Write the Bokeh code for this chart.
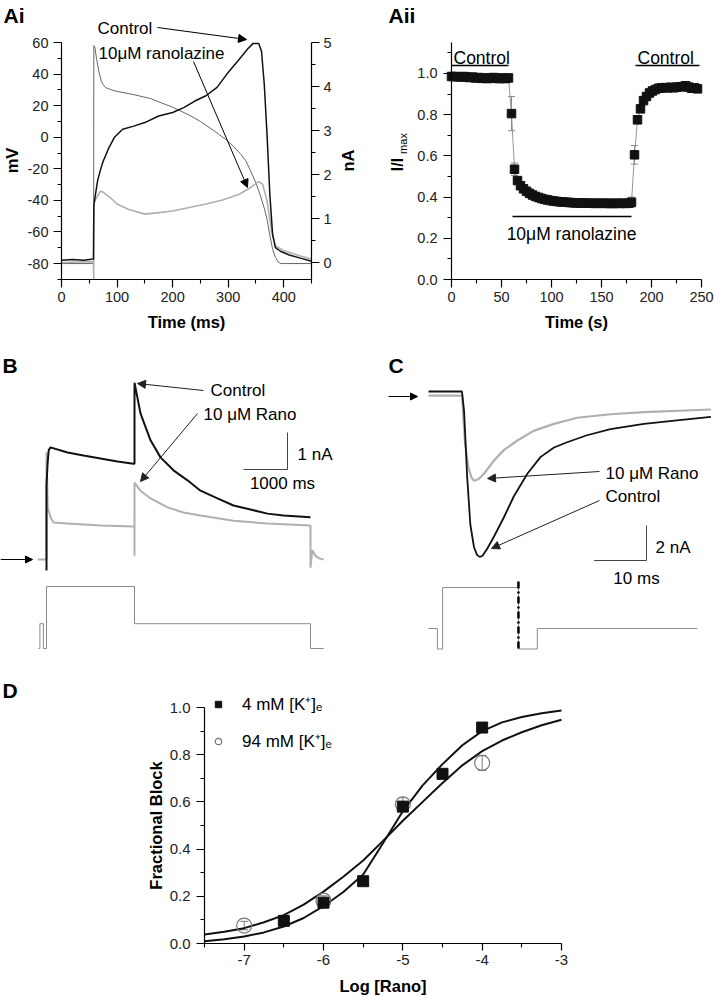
import math
from bokeh.plotting import figure
from bokeh.models import (Range1d, LinearAxis, FixedTicker, Label, Arrow, NormalHead,
                          TeeHead, Whisker, ColumnDataSource, Legend, LegendItem)
from bokeh.layouts import row, column
from bokeh.embed import file_html
from bokeh.resources import INLINE

FONT = "Liberation Sans"
INK = "#111111"
LIGHT = "#b0b0b0"

# ======================= DATA =======================
# ---- Ai : AP-clamp command (mV) and currents (nA) ----
ai_v_t = [0, 57.8, 58.2, 60, 63, 67, 72, 79, 90, 100, 130, 160, 200, 230, 250, 275, 298, 310,
          322, 332, 340, 350, 358, 365, 370, 375, 380, 385, 390, 395, 450]
ai_v_mv = [-80, -80, 58, 57, 50, 42, 35, 31.5, 30, 29, 27, 24.5, 19, 14, 10, 4, -2, -6,
           -10.5, -15, -21, -29, -37, -45, -52, -62, -71, -76, -79, -80, -80]
ai_ctrl_t = [0, 20, 40, 57.5, 58.2, 60, 65, 70, 75, 80, 85, 95, 110, 130, 150, 175, 200, 220,
             240, 260, 280, 300, 320, 335, 345, 355, 360, 365, 370, 375, 380, 385, 395, 410, 430, 450]
ai_ctrl_na = [0.05, 0.07, 0.05, 0.08, 1.3, 1.45, 1.86, 2.1, 2.3, 2.45, 2.6, 2.84, 3.03, 3.1, 3.18,
              3.33, 3.41, 3.52, 3.67, 3.79, 3.98, 4.32, 4.62, 4.85, 4.98, 4.98, 4.8, 4.05, 2.9,
              1.55, 0.64, 0.34, 0.25, 0.17, 0.1, 0.03]
ai_rano_t = [0, 57.5, 58, 58.3, 62, 70, 75, 80, 90, 100, 120, 150, 180, 200, 230, 260, 290, 320,
             340, 355, 362, 370, 378, 385, 400, 430, 450]
ai_rano_na = [0.0, 0.02, -0.38, 1.35, 1.45, 1.62, 1.6, 1.55, 1.45, 1.33, 1.21, 1.1, 1.14, 1.17,
              1.25, 1.33, 1.42, 1.55, 1.7, 1.84, 1.78, 1.4, 0.72, 0.38, 0.27, 0.15, 0.08]
ai_x_ticks = [0, 100, 200, 300, 400]
ai_x_labels = ["0", "100", "200", "300", "400"]
ai_x_minor = [50, 150, 250, 350, 450]
ai_mv_ticks = [-80, -60, -40, -20, 0, 20, 40, 60]
ai_mv_labels = ["-80", "-60", "-40", "-20", "0", "20", "40", "60"]
ai_mv_minor = [-90, -70, -50, -30, -10, 10, 30, 50]
ai_na_ticks = [0, 1, 2, 3, 4, 5]
ai_na_labels = ["0", "1", "2", "3", "4", "5"]
ai_na_minor = [0.5, 1.5, 2.5, 3.5, 4.5]

# ---- Aii : time course of I/Imax ----
aii_t = [0, 3, 6, 9, 12, 15, 18, 21, 24, 27, 30, 33, 36, 39, 42, 45, 48, 51, 54, 57,
         60, 63, 66, 69, 72, 75, 78, 81, 84, 87, 90, 93, 96, 99, 102, 105, 108, 111, 114, 117,
         120, 123, 126, 129, 132, 135, 138, 141, 144, 147, 150, 153, 156, 159, 162, 165, 168,
         171, 174, 177, 180,
         183, 186, 189, 192, 195, 198, 201, 204, 207, 210, 213, 216, 219, 222, 225, 228, 231,
         234, 237, 240, 243, 246]
aii_val = [0.985, 0.985, 0.984, 0.983, 0.985, 0.982, 0.980, 0.982, 0.978, 0.980, 0.976, 0.978,
           0.975, 0.978, 0.980, 0.976, 0.975, 0.978, 0.975, 0.978,
           0.805, 0.535, 0.480, 0.455, 0.440, 0.428, 0.418, 0.410, 0.403, 0.398, 0.393, 0.389,
           0.386, 0.383, 0.381, 0.379, 0.377, 0.376, 0.375, 0.374, 0.373, 0.372, 0.372, 0.371,
           0.371, 0.370, 0.370, 0.370, 0.369, 0.370, 0.370, 0.369, 0.370, 0.369, 0.369, 0.370,
           0.369, 0.370, 0.369, 0.370, 0.375,
           0.605, 0.775, 0.828, 0.868, 0.888, 0.905, 0.915, 0.922, 0.928, 0.930, 0.931, 0.930,
           0.933, 0.930, 0.933, 0.935, 0.936, 0.940, 0.934, 0.928, 0.930, 0.925]
aii_err_t = [60, 63, 66, 180, 183, 186]
aii_err = [0.083, 0.03, 0.015, 0.025, 0.045, 0.02]
aii_bar_start = [0, 61, 184]
aii_bar_end = [57, 180, 248]
aii_x_ticks = [0, 50, 100, 150, 200, 250]
aii_x_labels = ["0", "50", "100", "150", "200", "250"]
aii_x_minor = [25, 75, 125, 175, 225]
aii_y_ticks = [0.0, 0.2, 0.4, 0.6, 0.8, 1.0]
aii_y_labels = ["0.0", "0.2", "0.4", "0.6", "0.8", "1.0"]
aii_y_minor = [0.1, 0.3, 0.5, 0.7, 0.9, 1.1]

# ---- B : step protocol currents (ms, nA) and command (mV) ----
b_ctrl_t = [0, 0, 25, 50, 91, 477, 841, 1227, 1614, 1977, 2000, 2000, 2136, 2364, 2591, 2886,
            3205, 3500, 3886, 4250, 4636, 5023, 5386, 6000]
b_ctrl_na = [-0.3, 2.0, 2.6, 2.95, 3.03, 2.89, 2.81, 2.73, 2.65, 2.59, 2.59, 4.78, 3.95, 3.22,
             2.76, 2.41, 2.14, 1.86, 1.65, 1.46, 1.35, 1.24, 1.19, 1.14]
b_rano_t = [-200, 0, 0, 30, 91, 159, 477, 1227, 1977, 2000, 2000, 2000, 2136, 2364, 2750, 3114,
            3500, 4250, 5023, 6000, 6000, 6040, 6120, 6200, 6300]
b_rano_na = [0.0, 0.0, 2.9, 1.4, 1.14, 1.0, 0.97, 0.92, 0.89, 0.89, 0.1, 2.08, 1.86, 1.65, 1.41,
             1.27, 1.19, 1.05, 0.97, 0.92, -0.22, 0.25, 0.09, 0.03, 0.0]
b_prot_t = [-180, -150, -150, -70, -70, 0, 0, 2000, 2000, 6000, 6000, 6300]
b_prot_mv = [-80, -80, -40, -40, -80, -80, 20, 20, -40, -40, -80, -80]
b_scale_na = 1
b_scale_ms = 1000

# ---- C : tail currents (ms, nA) and command (mV) ----
c_ctrl_t = [0, 6.4, 6.8, 7.4, 8.0, 8.7, 9.3, 9.8, 10.3, 11.2, 12.5, 14.4, 16.3, 18.9, 21.4,
            24.0, 26.5, 30.3, 34.8, 41.2, 47.5, 54.0]
c_ctrl_na = [0, 0, -1.1, -4.9, -7.6, -8.9, -9.35, -9.45, -9.4, -9.0, -8.3, -7.2, -6.0, -4.7,
             -3.75, -3.2, -2.9, -2.5, -2.15, -1.85, -1.65, -1.45]
c_rano_t = [0, 6.4, 7.0, 7.6, 8.2, 8.7, 9.6, 10.6, 12.5, 14.4, 17.0, 20.1, 24.0, 28.4, 34.8,
            41.2, 54.0]
c_rano_na = [-0.23, -0.23, -3.0, -4.3, -4.9, -5.1, -5.0, -4.7, -3.95, -3.35, -2.8, -2.25, -1.85,
             -1.5, -1.3, -1.18, -1.03]
c_prot_t = [0, 1.7, 1.7, 2.7, 2.7, 17.2, 17.2, 20.8, 20.8, 51.4]
c_prot_mv = [-80, -80, -130, -130, 20, 20, -130, -130, -80, -80]
c_scale_na = 2
c_scale_ms = 10

# ---- D : concentration-response ----
d_x4 = [-6.5, -6.0, -5.5, -5.0, -4.5, -4.0]
d_y4 = [0.096, 0.173, 0.264, 0.580, 0.719, 0.915]
d_x94 = [-7.0, -6.0, -5.0, -4.0]
d_y94 = [0.076, 0.182, 0.590, 0.765]
d_e94 = [0.018, 0.02, 0.028, 0.032]
d_fit_x = [-7.5, -7.25, -7.0, -6.75, -6.5, -6.25, -6.0, -5.75, -5.5, -5.25, -5.0, -4.75, -4.5,
           -4.25, -4.0, -3.75, -3.5, -3.25, -3.0]
d_fit4 = [0.010, 0.018, 0.030, 0.047, 0.072, 0.108, 0.158, 0.218, 0.292, 0.425, 0.56, 0.67,
          0.76, 0.84, 0.90, 0.937, 0.96, 0.976, 0.987]
d_fit94 = [0.038, 0.05, 0.065, 0.09, 0.12, 0.165, 0.22, 0.283, 0.352, 0.435, 0.52, 0.60, 0.68,
           0.755, 0.815, 0.86, 0.895, 0.925, 0.948]
d_x_ticks = [-7, -6, -5, -4, -3]
d_x_labels = ["-7", "-6", "-5", "-4", "-3"]
d_x_minor = [-7.5, -6.5, -5.5, -4.5, -3.5]
d_y_ticks = [0.0, 0.2, 0.4, 0.6, 0.8, 1.0]
d_y_labels = ["0.0", "0.2", "0.4", "0.6", "0.8", "1.0"]
d_y_minor = [0.1, 0.3, 0.5, 0.7, 0.9]


# ======================= HELPERS =======================
def make_fig(w, h, xr, yr):
    p = figure(width=w, height=h, x_range=xr, y_range=yr, output_backend="svg",
               toolbar_location=None, x_axis_location=None, y_axis_location=None,
               min_border=0, min_border_left=0, min_border_right=0, min_border_top=0,
               min_border_bottom=0)
    p.outline_line_color = None
    p.background_fill_color = "white"
    p.border_fill_color = "white"
    p.xgrid.grid_line_color = None
    p.ygrid.grid_line_color = None
    p.xgrid.visible = False
    p.ygrid.visible = False
    return p


def add_axis(p, side, fixed, bounds, ticks, labels, minor, rng=None, title=None,
             label_standoff=5, title_standoff=5, size="14.5px", tick_out=8):
    kw = {}
    if rng is not None:
        kw["y_range_name"] = rng
    ax = LinearAxis(fixed_location=fixed, bounds=bounds, **kw)
    ax.ticker = FixedTicker(ticks=ticks, minor_ticks=minor)
    ax.major_label_overrides = {t: s for t, s in zip(ticks, labels)}
    ax.major_label_text_font = FONT
    ax.major_label_text_font_size = size
    ax.major_label_text_color = "#222222"
    ax.major_label_standoff = label_standoff
    ax.major_tick_in = 0
    ax.major_tick_out = tick_out
    ax.minor_tick_in = 0
    ax.minor_tick_out = 4
    ax.axis_line_color = "black"
    ax.major_tick_line_color = "black"
    ax.minor_tick_line_color = "black"
    ax.axis_line_width = 1.2
    ax.major_tick_line_width = 1.2
    ax.minor_tick_line_width = 1.1
    if title:
        ax.axis_label = title
        ax.axis_label_text_font = FONT
        ax.axis_label_text_font_size = "16.5px"
        ax.axis_label_text_font_style = "bold"
        ax.axis_label_text_color = "black"
        ax.axis_label_standoff = title_standoff
    p.add_layout(ax, side)
    return ax


def text(p, x, y, s, size="17px", align="left", baseline="middle", bold=False, angle=0.0,
         rng="default", color="black"):
    p.add_layout(Label(x=x, y=y, text=s, text_font=FONT, text_font_size=size,
                       text_align=align, text_baseline=baseline, angle=angle,
                       text_font_style="bold" if bold else "normal", text_color=color,
                       y_range_name=rng))


def arrow(p, x0, y0, x1, y1, rng="default", head=True, color="black", width=1.0,
          dash="solid", hsize=8):
    end = NormalHead(size=hsize, fill_color=color, line_color=color, line_width=1) if head else None
    p.add_layout(Arrow(x_start=x0, y_start=y0, x_end=x1, y_end=y1, end=end,
                       line_color=color, line_width=width, line_dash=dash, y_range_name=rng))


# page geometry (the page starts at 0,0): rows 0-340, 340-660, 660-997; columns 0-358, 358-715
# ======================= PANEL Ai =======================
A_TOP, A_BOT = 42, 279
A1_L, A1_R = 61, 311
A1_FX = (0, 450)
A1_FY = (-90.1, 60)
A1_NA = (-0.386, 5.0)


def a1x(px):
    return A1_FX[0] + (px - A1_L) * (A1_FX[1] - A1_FX[0]) / (A1_R - A1_L)


def a1y(py):
    return A1_FY[1] - (py - A_TOP) * (A1_FY[1] - A1_FY[0]) / (A_BOT - A_TOP)


def a1n(py):
    return A1_NA[1] - (py - A_TOP) * (A1_NA[1] - A1_NA[0]) / (A_BOT - A_TOP)


fa1 = make_fig(358, 340, Range1d(a1x(0), a1x(358)), Range1d(a1y(340), a1y(0)))
fa1.extra_y_ranges = {"na": Range1d(a1n(340), a1n(0))}
add_axis(fa1, "below", A1_FY[0], A1_FX, ai_x_ticks, ai_x_labels, ai_x_minor,
         title="Time (ms)", label_standoff=4, title_standoff=8)
add_axis(fa1, "left", A1_FX[0], A1_FY, ai_mv_ticks, ai_mv_labels, ai_mv_minor)
add_axis(fa1, "right", A1_FX[1], A1_NA, ai_na_ticks, ai_na_labels, ai_na_minor, rng="na",
         label_standoff=4)

fa1.line(ai_v_t, ai_v_mv, line_color="#666666", line_width=1)
fa1.line(ai_rano_t, ai_rano_na, y_range_name="na", line_color=LIGHT, line_width=1.6)
fa1.line(ai_ctrl_t, ai_ctrl_na, y_range_name="na", line_color=INK, line_width=1.5)

text(fa1, a1x(3), a1y(15), "Ai", size="21px", bold=True)
text(fa1, a1x(11), a1y(160), "mV", size="16.5px", bold=True, align="center", angle=math.pi / 2)
text(fa1, a1x(347), a1y(160), "nA", size="16.5px", bold=True, align="center", angle=math.pi / 2)
text(fa1, a1x(97), a1y(28), "Control")
text(fa1, a1x(98), a1y(53), "10\u03bcM ranolazine")
arrow(fa1, a1x(157), a1y(27), a1x(246), a1y(39))
arrow(fa1, a1x(193), a1y(61), a1x(247), a1y(187))

# ======================= PANEL Aii =======================
A2_L, A2_R = 451, 701
A2_FX = (0, 250)
A2_FY = (0, 1.15)


def a2x(px):
    return A2_FX[0] + (px - A2_L) * (A2_FX[1] - A2_FX[0]) / (A2_R - A2_L)


def a2y(py):
    return A2_FY[0] + (A_BOT - py) * (A2_FY[1] - A2_FY[0]) / (A_BOT - A_TOP)


fa2 = make_fig(357, 340, Range1d(a2x(358), a2x(715)), Range1d(a2y(340), a2y(0)))
add_axis(fa2, "below", A2_FY[0], A2_FX, aii_x_ticks, aii_x_labels, aii_x_minor,
         title="Time (s)", label_standoff=4, title_standoff=8)
add_axis(fa2, "left", A2_FX[0], A2_FY, aii_y_ticks, aii_y_labels, aii_y_minor,
         label_standoff=6)

idx = {t: i for i, t in enumerate(aii_t)}
err_src = ColumnDataSource(dict(
    t=aii_err_t,
    lo=[aii_val[idx[t]] - e for t, e in zip(aii_err_t, aii_err)],
    hi=[aii_val[idx[t]] + e for t, e in zip(aii_err_t, aii_err)]))
fa2.add_layout(Whisker(source=err_src, base="t", lower="lo", upper="hi", line_color="#8a8a8a",
                       line_width=1, upper_head=TeeHead(size=7, line_color="#8a8a8a"),
                       lower_head=TeeHead(size=7, line_color="#8a8a8a")))
fa2.line(aii_t, aii_val, line_color="#8a8a8a", line_width=0.9)
fa2.scatter(aii_t, aii_val, marker="square", size=8.5, fill_color=INK, line_color=INK)

bar_y = [a2y(65), a2y(216), a2y(65)]
fa2.segment(x0=aii_bar_start, x1=aii_bar_end, y0=bar_y, y1=bar_y, line_color="black",
            line_width=1.4)
text(fa2, a2x(453), a2y(57), "Control", size="17.5px")
text(fa2, a2x(637), a2y(57), "Control", size="17.5px")
text(fa2, a2x(571), a2y(233), "10\u03bcM ranolazine", size="17.5px", align="center")
text(fa2, a2x(388), a2y(15), "Aii", size="21px", bold=True)
text(fa2, a2x(397), a2y(164), "I/I", size="16px", bold=True, align="center", angle=math.pi / 2)
text(fa2, a2x(402.5), a2y(143), "max", size="11px", align="center", angle=math.pi / 2)

# ======================= PANEL B =======================
B_T0_PX, B_PX_PER_MS = 46, 0.044
B_I0_PX, B_PX_PER_NA = 559, 37.0
B_V0_PX, B_PX_PER_MV = 648, 0.62


def bx(px):
    return (px - B_T0_PX) / B_PX_PER_MS


def by(py):
    return (B_I0_PX - py) / B_PX_PER_NA


def bv(py):
    return -80 + (B_V0_PX - py) / B_PX_PER_MV


fb = make_fig(358, 320, Range1d(bx(0), bx(358)), Range1d(by(660), by(340)))
fb.extra_y_ranges = {"mv": Range1d(bv(660), bv(340))}
fb.line(b_prot_t, b_prot_mv, y_range_name="mv", line_color="#8c8c8c", line_width=1)
fb.line(b_rano_t, b_rano_na, line_color=LIGHT, line_width=2.0)
fb.line(b_ctrl_t, b_ctrl_na, line_color=INK, line_width=2.0)

text(fb, bx(2), by(365), "B", size="21px", bold=True)
arrow(fb, bx(0), 0, bx(32), 0, hsize=7)
text(fb, bx(210), by(390), "Control")
text(fb, bx(203), by(414), "10 \u03bcM Rano")
arrow(fb, bx(203), by(390), bx(137), by(383), color="#222222")
arrow(fb, bx(197), by(413), bx(140), by(481), color="#222222")
b_bar_x = bx(287)
b_bar_y = by(469)
arrow(fb, b_bar_x, b_bar_y, b_bar_x, b_bar_y + b_scale_na, head=False, color="#444444")
arrow(fb, b_bar_x - b_scale_ms, b_bar_y, b_bar_x, b_bar_y, head=False, color="#444444")
text(fb, bx(297), by(454), "1 nA")
text(fb, bx(282), by(483), "1000 ms", align="center")

# ======================= PANEL C =======================
C_T0_PX, C_PX_PER_MS = 428, 5.23
C_I0_PX, C_PX_PER_NA = 391, 17.5
C_V0_PX, C_PX_PER_MV = 628, 0.41


def cx(px):
    return (px - C_T0_PX) / C_PX_PER_MS


def cy(py):
    return (C_I0_PX - py) / C_PX_PER_NA


def cv(py):
    return -80 + (C_V0_PX - py) / C_PX_PER_MV


fc = make_fig(357, 320, Range1d(cx(358), cx(715)), Range1d(cy(660), cy(340)))
fc.extra_y_ranges = {"mv": Range1d(cv(660), cv(340))}
fc.line(c_prot_t, c_prot_mv, y_range_name="mv", line_color="#8c8c8c", line_width=1)
arrow(fc, c_prot_t[5], cv(581), c_prot_t[5], cv(651), rng="mv", head=False, color="black",
      width=2.5, dash="7 3 2 3")
fc.line(c_rano_t, c_rano_na, line_color=LIGHT, line_width=2.2)
fc.line(c_ctrl_t, c_ctrl_na, line_color=INK, line_width=1.8)

text(fc, cx(388), cy(365), "C", size="21px", bold=True)
arrow(fc, cx(388), cy(396), cx(417), cy(396), hsize=7)
text(fc, cx(605), cy(473), "10 \u03bcM Rano")
text(fc, cx(605), cy(496), "Control")
arrow(fc, cx(599), cy(471), cx(487), cy(478), color="#222222")
arrow(fc, cx(599), cy(500), cx(491), cy(548), color="#222222")
c_bar_x = cx(646)
c_bar_y = cy(560)
arrow(fc, c_bar_x, c_bar_y, c_bar_x, c_bar_y + c_scale_na, head=False, color="#444444")
arrow(fc, c_bar_x - c_scale_ms, c_bar_y, c_bar_x, c_bar_y, head=False, color="#444444")
text(fc, cx(655), cy(547), "2 nA")
text(fc, cx(636), cy(578), "10 ms", align="center")

# ======================= PANEL D =======================
D_L, D_R, D_T, D_B = 204, 561, 707, 943
D_FX = (-7.5, -3.0)
D_FY = (0.0, 1.0)


def dx(px):
    return D_FX[0] + (px - D_L) * (D_FX[1] - D_FX[0]) / (D_R - D_L)


def dy(py):
    return D_FY[0] + (D_B - py) * (D_FY[1] - D_FY[0]) / (D_B - D_T)


fd = make_fig(715, 337, Range1d(dx(0), dx(715)), Range1d(dy(997), dy(660)))
add_axis(fd, "below", D_FY[0], D_FX, d_x_ticks, d_x_labels, d_x_minor, title="Log [Rano]",
         label_standoff=4, title_standoff=9, size="15px", tick_out=7)
add_axis(fd, "left", D_FX[0], D_FY, d_y_ticks, d_y_labels, d_y_minor, label_standoff=6,
         size="15px")

fd.line(d_fit_x, d_fit94, line_color=INK, line_width=2)
fd.line(d_fit_x, d_fit4, line_color=INK, line_width=2)
d_err_src = ColumnDataSource(dict(x=d_x94, lo=[v - e for v, e in zip(d_y94, d_e94)],
                                  hi=[v + e for v, e in zip(d_y94, d_e94)]))
fd.add_layout(Whisker(source=d_err_src, base="x", lower="lo", upper="hi", line_color="#7a7a7a",
                      line_width=1, upper_head=TeeHead(size=8, line_color="#7a7a7a"),
                      lower_head=TeeHead(size=8, line_color="#7a7a7a")))
r94 = fd.scatter(d_x94, d_y94, marker="circle", size=15, fill_color=None, line_color="#777777",
                 line_width=1.2)
r4 = fd.scatter(d_x4, d_y4, marker="square", size=11, fill_color=INK, line_color=INK)

leg = Legend(items=[LegendItem(label="4 mM [K\u207a]\u2091", renderers=[r4]),
                    LegendItem(label="94 mM [K\u207a]\u2091", renderers=[r94])],
             location=(210, 245), background_fill_alpha=0, border_line_alpha=0,
             label_text_font=FONT, label_text_font_size="17px", label_text_color="black",
             glyph_width=16, glyph_height=16, label_height=20, spacing=14, padding=0, margin=0,
             label_standoff=16)
fd.add_layout(leg)

text(fd, dx(2), dy(690), "D", size="21px", bold=True)
text(fd, dx(155), dy(825), "Fractional Block", size="16.5px", bold=True, align="center",
     angle=math.pi / 2)

layout = column(row(fa1, fa2), row(fb, fc), fd)
open("out.html", "w").write(file_html(layout, INLINE))
